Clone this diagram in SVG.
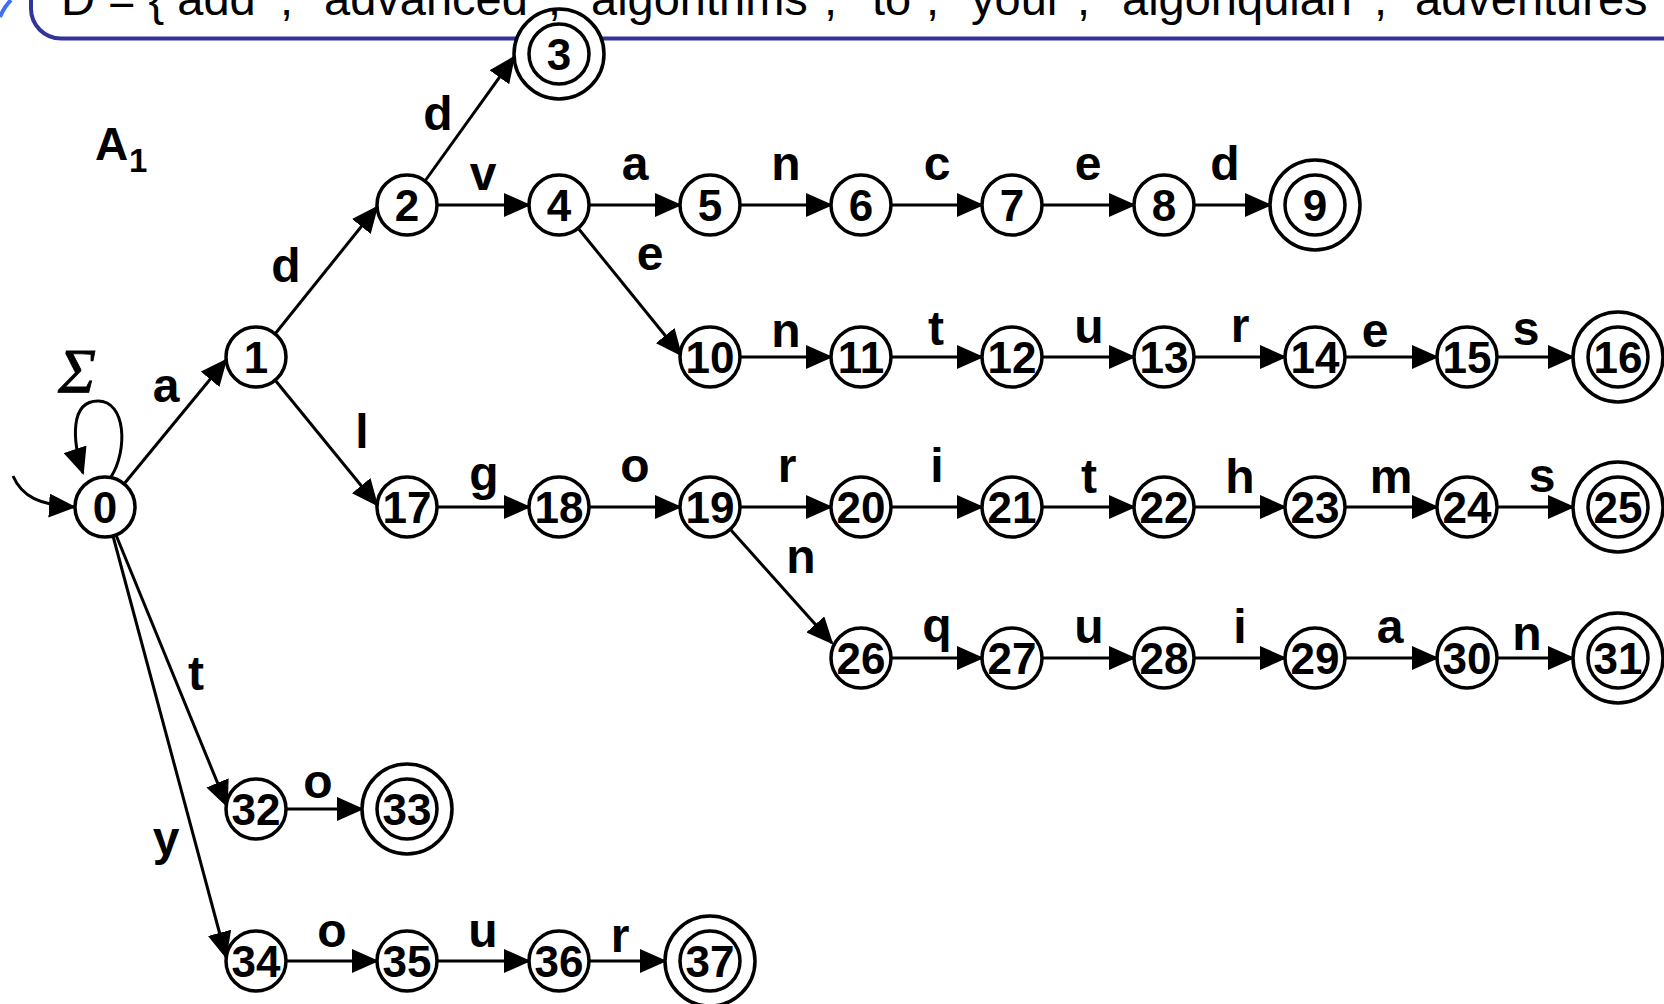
<svg xmlns="http://www.w3.org/2000/svg" width="1664" height="1004" viewBox="0 0 1664 1004">
<style>
.bg{fill:#ffffff}
.hdrbox{fill:none;stroke:#33339c;stroke-width:4}
.hdr{font-family:"Liberation Sans",Arial,sans-serif;font-size:47px;fill:#000}
.e{stroke:#000;stroke-width:3;fill:none;marker-end:url(#ah)}
.lbl{font-family:"Liberation Sans",Arial,sans-serif;font-size:48px;font-weight:bold;fill:#000;text-anchor:middle}
.n circle{fill:#fff;stroke:#000;stroke-width:3.5}
.n text{font-family:"Liberation Sans",Arial,sans-serif;font-size:44px;font-weight:bold;fill:#000;text-anchor:middle}
.title{font-family:"Liberation Sans",Arial,sans-serif;font-weight:bold;fill:#000}
.sig{font-family:"Liberation Serif","Times New Roman",serif;font-style:italic;font-size:64px;fill:#000;stroke:#000;stroke-width:0.8}
</style>
<defs>
<marker id="ah" markerUnits="userSpaceOnUse" markerWidth="27" markerHeight="24" refX="25" refY="12" orient="auto">
<path d="M0,0 L27,12 L0,24 Z" fill="#000"/>
</marker>
</defs>
<rect class="bg" x="0" y="0" width="1664" height="1004"/>
<g id="header-box">
<rect class="hdrbox" x="31" y="-70" width="1700" height="108.5" rx="30"/>
<path d="M0,17 Q4,7 11,0" fill="none" stroke="#3f6ff5" stroke-width="4"/>
</g>
<g id="title">
<text class="title" x="95" y="160" font-size="46">A</text>
<text class="title" x="129" y="172" font-size="33">1</text>
<text class="sig" x="58" y="393">Σ</text>
</g>
<g id="connectors">
<path class="e" d="M13,476 C22,497 40,505 74,507"/>
<path class="e" d="M111,477 C128,450 126,401 98,401 C70,401 72,440 83,473"/>
<line class="e" x1="124" y1="484" x2="226" y2="360"/>
<line class="e" x1="275" y1="334" x2="377" y2="207"/>
<line class="e" x1="425" y1="181" x2="514" y2="57"/>
<line class="e" x1="275" y1="380" x2="377" y2="505"/>
<line class="e" x1="578" y1="228" x2="681" y2="355"/>
<line class="e" x1="730" y1="529" x2="832" y2="643"/>
<line class="e" x1="116" y1="535" x2="227" y2="806"/>
<line class="e" x1="113" y1="536" x2="226" y2="957"/>
<line class="e" x1="437" y1="205" x2="529" y2="205"/>
<line class="e" x1="589" y1="205" x2="680" y2="205"/>
<line class="e" x1="740" y1="205" x2="831" y2="205"/>
<line class="e" x1="891" y1="205" x2="982" y2="205"/>
<line class="e" x1="1042" y1="205" x2="1134" y2="205"/>
<line class="e" x1="1194" y1="205" x2="1270" y2="205"/>
<line class="e" x1="740" y1="357" x2="831" y2="357"/>
<line class="e" x1="891" y1="357" x2="982" y2="357"/>
<line class="e" x1="1042" y1="357" x2="1134" y2="357"/>
<line class="e" x1="1194" y1="357" x2="1285" y2="357"/>
<line class="e" x1="1345" y1="357" x2="1437" y2="357"/>
<line class="e" x1="1497" y1="357" x2="1573" y2="357"/>
<line class="e" x1="437" y1="507" x2="529" y2="507"/>
<line class="e" x1="589" y1="507" x2="680" y2="507"/>
<line class="e" x1="740" y1="507" x2="831" y2="507"/>
<line class="e" x1="891" y1="507" x2="982" y2="507"/>
<line class="e" x1="1042" y1="507" x2="1134" y2="507"/>
<line class="e" x1="1194" y1="507" x2="1285" y2="507"/>
<line class="e" x1="1345" y1="507" x2="1437" y2="507"/>
<line class="e" x1="1497" y1="507" x2="1573" y2="507"/>
<line class="e" x1="891" y1="658" x2="982" y2="658"/>
<line class="e" x1="1042" y1="658" x2="1134" y2="658"/>
<line class="e" x1="1194" y1="658" x2="1285" y2="658"/>
<line class="e" x1="1345" y1="658" x2="1437" y2="658"/>
<line class="e" x1="1497" y1="658" x2="1573" y2="658"/>
<line class="e" x1="286" y1="809" x2="362" y2="809"/>
<line class="e" x1="286" y1="961" x2="377" y2="961"/>
<line class="e" x1="437" y1="961" x2="529" y2="961"/>
<line class="e" x1="589" y1="961" x2="665" y2="961"/>
<text class="lbl" x="166" y="402">a</text>
<text class="lbl" x="286" y="282">d</text>
<text class="lbl" x="438" y="130">d</text>
<text class="lbl" x="483" y="190">v</text>
<text class="lbl" x="362" y="448">l</text>
<text class="lbl" x="635" y="180">a</text>
<text class="lbl" x="786" y="180">n</text>
<text class="lbl" x="937" y="180">c</text>
<text class="lbl" x="1088" y="180">e</text>
<text class="lbl" x="1225" y="180">d</text>
<text class="lbl" x="650" y="270">e</text>
<text class="lbl" x="786" y="347">n</text>
<text class="lbl" x="936" y="345">t</text>
<text class="lbl" x="1089" y="343">u</text>
<text class="lbl" x="1240" y="342">r</text>
<text class="lbl" x="1375" y="347">e</text>
<text class="lbl" x="1526" y="345">s</text>
<text class="lbl" x="484" y="490">g</text>
<text class="lbl" x="635" y="482">o</text>
<text class="lbl" x="787" y="482">r</text>
<text class="lbl" x="937" y="482">i</text>
<text class="lbl" x="1089" y="493">t</text>
<text class="lbl" x="1240" y="493">h</text>
<text class="lbl" x="1391" y="493">m</text>
<text class="lbl" x="1542" y="492">s</text>
<text class="lbl" x="801" y="573">n</text>
<text class="lbl" x="937" y="642">q</text>
<text class="lbl" x="1089" y="643">u</text>
<text class="lbl" x="1240" y="643">i</text>
<text class="lbl" x="1390" y="643">a</text>
<text class="lbl" x="1527" y="650">n</text>
<text class="lbl" x="196" y="690">t</text>
<text class="lbl" x="166" y="855">y</text>
<text class="lbl" x="318" y="798">o</text>
<text class="lbl" x="332" y="947">o</text>
<text class="lbl" x="483" y="947">u</text>
<text class="lbl" x="620" y="952">r</text>
</g>
<g id="node-0" class="n"><circle cx="105" cy="507" r="30"/><text x="105" y="522.5">0</text></g>
<g id="node-1" class="n"><circle cx="256" cy="357" r="30"/><text x="256" y="372.5">1</text></g>
<g id="node-2" class="n"><circle cx="407" cy="205" r="30"/><text x="407" y="220.5">2</text></g>
<g id="node-3" class="n"><circle cx="559" cy="54" r="45"/><circle cx="559" cy="54" r="30"/><text x="559" y="69.5">3</text></g>
<g id="node-4" class="n"><circle cx="559" cy="205" r="30"/><text x="559" y="220.5">4</text></g>
<g id="node-5" class="n"><circle cx="710" cy="205" r="30"/><text x="710" y="220.5">5</text></g>
<g id="node-6" class="n"><circle cx="861" cy="205" r="30"/><text x="861" y="220.5">6</text></g>
<g id="node-7" class="n"><circle cx="1012" cy="205" r="30"/><text x="1012" y="220.5">7</text></g>
<g id="node-8" class="n"><circle cx="1164" cy="205" r="30"/><text x="1164" y="220.5">8</text></g>
<g id="node-9" class="n"><circle cx="1315" cy="205" r="45"/><circle cx="1315" cy="205" r="30"/><text x="1315" y="220.5">9</text></g>
<g id="node-10" class="n"><circle cx="710" cy="357" r="30"/><text x="710" y="372.5">10</text></g>
<g id="node-11" class="n"><circle cx="861" cy="357" r="30"/><text x="861" y="372.5">11</text></g>
<g id="node-12" class="n"><circle cx="1012" cy="357" r="30"/><text x="1012" y="372.5">12</text></g>
<g id="node-13" class="n"><circle cx="1164" cy="357" r="30"/><text x="1164" y="372.5">13</text></g>
<g id="node-14" class="n"><circle cx="1315" cy="357" r="30"/><text x="1315" y="372.5">14</text></g>
<g id="node-15" class="n"><circle cx="1467" cy="357" r="30"/><text x="1467" y="372.5">15</text></g>
<g id="node-16" class="n"><circle cx="1618" cy="357" r="45"/><circle cx="1618" cy="357" r="30"/><text x="1618" y="372.5">16</text></g>
<g id="node-17" class="n"><circle cx="407" cy="507" r="30"/><text x="407" y="522.5">17</text></g>
<g id="node-18" class="n"><circle cx="559" cy="507" r="30"/><text x="559" y="522.5">18</text></g>
<g id="node-19" class="n"><circle cx="710" cy="507" r="30"/><text x="710" y="522.5">19</text></g>
<g id="node-20" class="n"><circle cx="861" cy="507" r="30"/><text x="861" y="522.5">20</text></g>
<g id="node-21" class="n"><circle cx="1012" cy="507" r="30"/><text x="1012" y="522.5">21</text></g>
<g id="node-22" class="n"><circle cx="1164" cy="507" r="30"/><text x="1164" y="522.5">22</text></g>
<g id="node-23" class="n"><circle cx="1315" cy="507" r="30"/><text x="1315" y="522.5">23</text></g>
<g id="node-24" class="n"><circle cx="1467" cy="507" r="30"/><text x="1467" y="522.5">24</text></g>
<g id="node-25" class="n"><circle cx="1618" cy="507" r="45"/><circle cx="1618" cy="507" r="30"/><text x="1618" y="522.5">25</text></g>
<g id="node-26" class="n"><circle cx="861" cy="658" r="30"/><text x="861" y="673.5">26</text></g>
<g id="node-27" class="n"><circle cx="1012" cy="658" r="30"/><text x="1012" y="673.5">27</text></g>
<g id="node-28" class="n"><circle cx="1164" cy="658" r="30"/><text x="1164" y="673.5">28</text></g>
<g id="node-29" class="n"><circle cx="1315" cy="658" r="30"/><text x="1315" y="673.5">29</text></g>
<g id="node-30" class="n"><circle cx="1467" cy="658" r="30"/><text x="1467" y="673.5">30</text></g>
<g id="node-31" class="n"><circle cx="1618" cy="658" r="45"/><circle cx="1618" cy="658" r="30"/><text x="1618" y="673.5">31</text></g>
<g id="node-32" class="n"><circle cx="256" cy="809" r="30"/><text x="256" y="824.5">32</text></g>
<g id="node-33" class="n"><circle cx="407" cy="809" r="45"/><circle cx="407" cy="809" r="30"/><text x="407" y="824.5">33</text></g>
<g id="node-34" class="n"><circle cx="256" cy="961" r="30"/><text x="256" y="976.5">34</text></g>
<g id="node-35" class="n"><circle cx="407" cy="961" r="30"/><text x="407" y="976.5">35</text></g>
<g id="node-36" class="n"><circle cx="559" cy="961" r="30"/><text x="559" y="976.5">36</text></g>
<g id="node-37" class="n"><circle cx="710" cy="961" r="45"/><circle cx="710" cy="961" r="30"/><text x="710" y="976.5">37</text></g>
<g id="header-text">
<text class="hdr" y="15"><tspan x="61">D = { add</tspan><tspan x="280">,</tspan><tspan x="324">advanced</tspan><tspan x="548">,</tspan><tspan x="591">algorithms</tspan><tspan x="824">,</tspan><tspan x="872">to</tspan><tspan x="926">,</tspan><tspan x="971">your</tspan><tspan x="1077">,</tspan><tspan x="1122">algonquian</tspan><tspan x="1374">,</tspan><tspan x="1415">adventures</tspan></text>
</g>
</svg>
